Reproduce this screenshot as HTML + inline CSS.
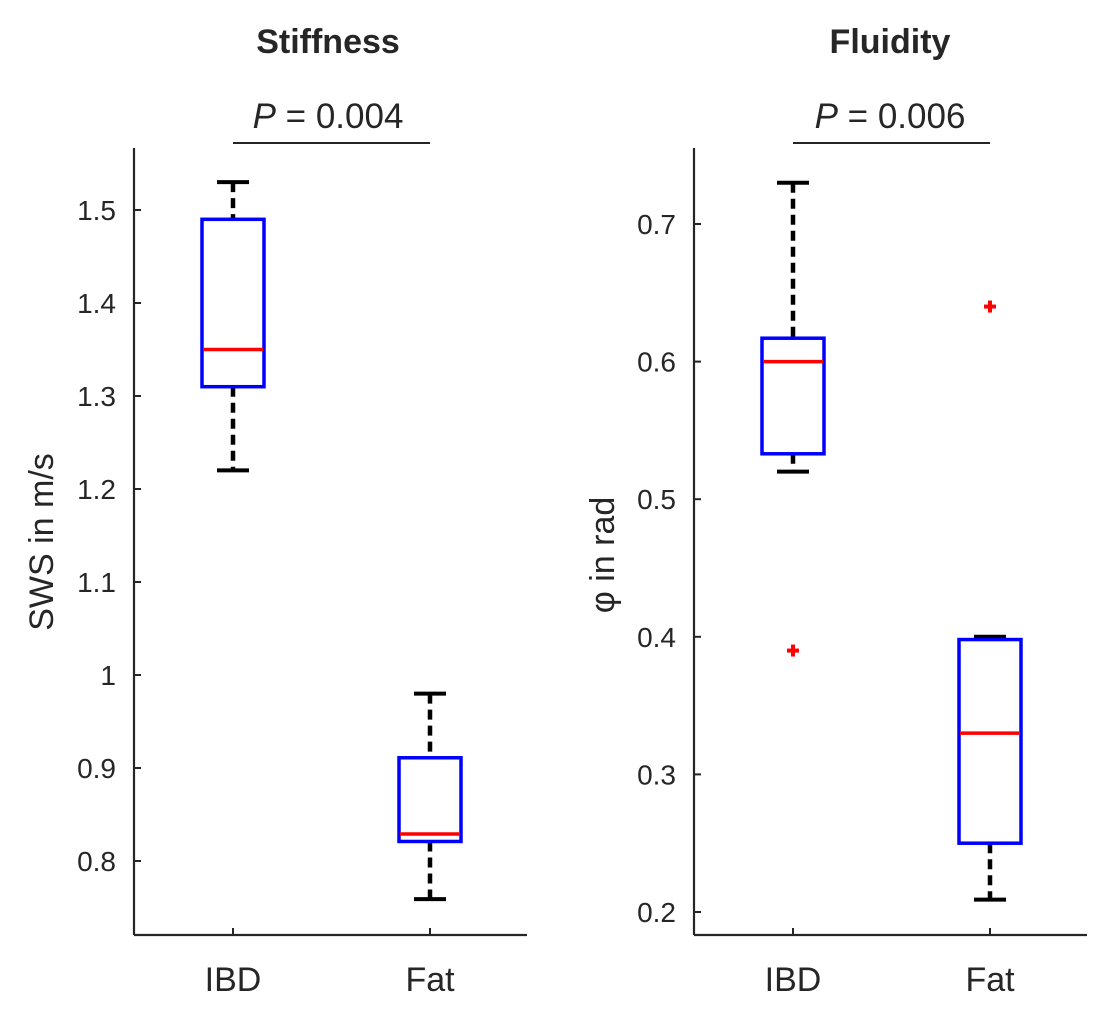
<!DOCTYPE html>
<html><head><meta charset="utf-8"><style>
body{margin:0;background:#fff}
svg text{font-family:"Liberation Sans",Arial,sans-serif;fill:#262626}
</style></head><body>
<svg id="chart" width="1098" height="1027" xmlns="http://www.w3.org/2000/svg"></svg>
<script>
const categories=["IBD","Fat"];
// stats: [whiskerLow, q1, median, q3, whiskerHigh]
const stiffStats=[[1.22,1.31,1.35,1.49,1.53],[0.759,0.821,0.829,0.911,0.98]];
const stiffOutliers=[[],[]];
const stiffTicks=[0.8,0.9,1,1.1,1.2,1.3,1.4,1.5];
const fluidStats=[[0.52,0.533,0.6,0.617,0.73],[0.209,0.25,0.33,0.398,0.40]];
const fluidOutliers=[[0.39],[0.64]];
const fluidTicks=[0.2,0.3,0.4,0.5,0.6,0.7];
const NS="http://www.w3.org/2000/svg";
const svg=document.getElementById("chart");
function mk(tag,attrs,parent){const e=document.createElementNS(NS,tag);for(const k in attrs)e.setAttribute(k,attrs[k]);(parent||svg).appendChild(e);return e;}
function panel(o){
  const g=mk("g",{});
  
  
  const y=v=>o.y0+(v-o.v0)*(o.y1-o.y0)/(o.v1-o.v0);
  const x=i=>o.xs[i];
  let a=mk("line",{x1:o.left,x2:o.left,y1:148,y2:935,stroke:"#262626","stroke-width":2.2},g);
  
  a=mk("line",{x1:o.left,x2:o.left+393,y1:935,y2:935,stroke:"#262626","stroke-width":2.2},g);
  
  o.ticks.forEach(t=>{
    mk("line",{x1:o.left,x2:o.left+7,y1:y(t),y2:y(t),stroke:"#262626","stroke-width":2},g);
    const tx=mk("text",{x:o.left-18,y:y(t)+10,"text-anchor":"end","font-size":28},g);
    tx.textContent=String(t);
    
  });
  categories.forEach((c,i)=>{
    mk("line",{x1:x(i),x2:x(i),y1:935,y2:928,stroke:"#262626","stroke-width":2},g);
    const tx=mk("text",{x:x(i),y:991,"text-anchor":"middle","font-size":34},g);
    tx.textContent=c;
    
    const s=o.stats[i];const bg=mk("g",{},g);
    
    mk("line",{x1:x(i),x2:x(i),y1:y(s[4]),y2:y(s[3]),stroke:"#000","stroke-width":4.5,"stroke-dasharray":"10,6"},bg);
    mk("line",{x1:x(i),x2:x(i),y1:y(s[1]),y2:y(s[0]),stroke:"#000","stroke-width":4.5,"stroke-dasharray":"10,6"},bg);
    mk("line",{x1:x(i)-16,x2:x(i)+16,y1:y(s[4]),y2:y(s[4]),stroke:"#000","stroke-width":4},bg);
    mk("line",{x1:x(i)-16,x2:x(i)+16,y1:y(s[0]),y2:y(s[0]),stroke:"#000","stroke-width":4},bg);
    mk("rect",{x:x(i)-31,y:y(s[3]),width:62,height:y(s[1])-y(s[3]),fill:"none",stroke:"#0000ff","stroke-width":3.5},bg);
    mk("line",{x1:x(i)-30,x2:x(i)+30,y1:y(s[2]),y2:y(s[2]),stroke:"#ff0000","stroke-width":3.5},bg);
    o.out[i].forEach(v=>{
      const p=mk("g",{},bg);
      
      mk("line",{x1:x(i)-6,x2:x(i)+6,y1:y(v),y2:y(v),stroke:"#ff0000","stroke-width":4},p);
      mk("line",{x1:x(i),x2:x(i),y1:y(v)-6,y2:y(v)+6,stroke:"#ff0000","stroke-width":4},p);
    });
  });
  let t=mk("text",{x:o.mid,y:53,"text-anchor":"middle","font-size":34,"font-weight":"bold"},g);
  t.textContent=o.title;
  t=mk("text",{x:o.mid,y:128,"text-anchor":"middle","font-size":35},g);
  t.innerHTML='<tspan font-style="italic">P</tspan> = '+o.p;
  
  a=mk("line",{x1:x(0),x2:x(1),y1:143,y2:143,stroke:"#262626","stroke-width":2},g);
  
  t=mk("text",{x:0,y:0,"text-anchor":"middle","font-size":34,transform:`translate(${o.ylx},${o.yly}) rotate(-90)`},g);
  t.textContent=o.ylabel;
}
panel({name:"stiffness-panel",left:134,xs:[233,430],v0:0.8,y0:861,v1:1.5,y1:210,ticks:stiffTicks,stats:stiffStats,out:stiffOutliers,title:"Stiffness",p:"0.004",mid:328,ylabel:"SWS in m/s",ylx:53,yly:542});
panel({name:"fluidity-panel",left:694,xs:[793,990],v0:0.2,y0:912,v1:0.7,y1:224,ticks:fluidTicks,stats:fluidStats,out:fluidOutliers,title:"Fluidity",p:"0.006",mid:890,ylabel:"φ in rad",ylx:614,yly:555});
</script>
</body></html>
